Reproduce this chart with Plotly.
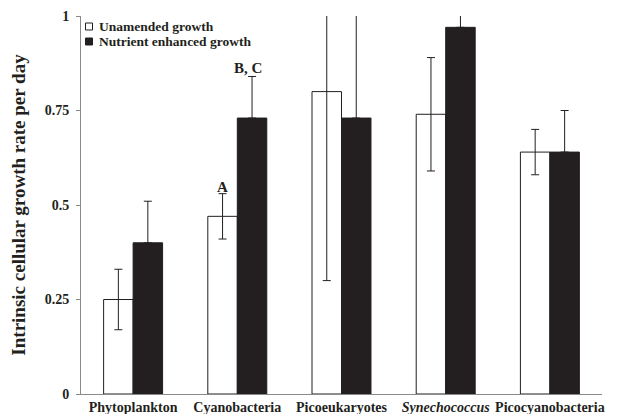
import plotly.graph_objects as go

categories = ["Phytoplankton", "Cyanobacteria", "Picoeukaryotes", "Synechococcus", "Picocyanobacteria"]
tick_labels = ["<b>Phytoplankton</b>", "<b>Cyanobacteria</b>", "<b>Picoeukaryotes</b>",
               "<b><i>Synechococcus</i></b>", "<b>Picocyanobacteria</b>"]
unamended = [0.25, 0.47, 0.80, 0.74, 0.64]
unamended_err = [0.08, 0.06, 0.50, 0.15, 0.06]
enhanced = [0.40, 0.73, 0.73, 0.97, 0.64]
enhanced_err = [0.11, 0.11, 0.50, 0.12, 0.11]
y_ticks = [0, 0.25, 0.5, 0.75, 1]
y_tick_labels = ["<b>0</b>", "<b>0.25</b>", "<b>0.5</b>", "<b>0.75</b>", "<b>1</b>"]
series_names = ["Unamended growth", "Nutrient enhanced growth"]

DARK = "#231F20"
FONT = "Liberation Serif"
AXIS = "#8a8a8a"

# page body has an 8px margin; the figure is sized to fill the rest of the window
OFF = 8
W, H = 617 - OFF, 414 - OFF
L, R, T, B = 81 - OFF, 15, 16 - OFF, 20
pw, ph = W - L - R, H - T - B


def px(x):
    return (x - OFF - L) / pw


def py(y):
    return 1 - (y - OFF - T) / ph


fig = go.Figure()
fig.add_trace(go.Bar(
    x=categories, y=unamended, name=series_names[0], showlegend=False,
    marker=dict(color="white", line=dict(color=DARK, width=1)),
    error_y=dict(type="data", array=unamended_err, symmetric=True,
                 color=DARK, thickness=1, width=4),
))
fig.add_trace(go.Bar(
    x=categories, y=enhanced, name=series_names[1], showlegend=False,
    marker=dict(color=DARK, line=dict(color=DARK, width=1)),
    error_y=dict(type="data", array=enhanced_err, arrayminus=[0] * len(enhanced),
                 symmetric=False, color=DARK, thickness=1, width=4),
))

# legend keys (paper coordinates)
legend_rows = [(26.5, "white"), (41.5, DARK)]
for (yc, fill), name in zip(legend_rows, series_names):
    fig.add_shape(type="rect", xref="paper", yref="paper",
                  x0=px(85.5), x1=px(92.5), y0=py(yc - 3.5), y1=py(yc + 3.5),
                  fillcolor=fill, line=dict(color=DARK, width=1))
    fig.add_annotation(x=px(97), y=py(yc), xref="paper", yref="paper",
                       xanchor="left", yanchor="middle", text="<b>%s</b>" % name,
                       showarrow=False, font=dict(family=FONT, size=13.5, color=DARK))

fig.add_annotation(x=1 - 0.1415, y=0.548, xref="x", yref="y", text="<b>A</b>",
                   showarrow=False, font=dict(family=FONT, size=15, color=DARK))
fig.add_annotation(x=1 + 0.105, y=0.862, xref="x", yref="y", text="<b>B, C</b>",
                   showarrow=False, font=dict(family=FONT, size=15, color=DARK))

fig.update_layout(
    width=W, height=H,
    margin=dict(l=L, r=R, t=T, b=B, autoexpand=False),
    paper_bgcolor="white", plot_bgcolor="white",
    barmode="group", bargap=0.434, bargroupgap=0,
    font=dict(family=FONT, color=DARK, size=14),
    showlegend=False,
)
fig.update_xaxes(
    type="category", range=[-0.5, 4.5], automargin=False,
    tickvals=categories, ticktext=tick_labels, tickangle=0,
    showline=True, linecolor=AXIS, linewidth=1,
    ticks="", showgrid=False, zeroline=False,
    tickfont=dict(family=FONT, size=14, color=DARK),
    ticklabelstandoff=0,
)
fig.update_yaxes(
    range=[0, 1], tickvals=y_ticks, ticktext=y_tick_labels, automargin=False,
    showline=True, linecolor=AXIS, linewidth=1,
    ticks="outside", ticklen=4, tickcolor=AXIS,
    showgrid=False, zeroline=False,
    tickfont=dict(family=FONT, size=14, color=DARK),
    ticklabelstandoff=4,
    title=dict(text="<b>Intrinsic cellular growth rate per day</b>", standoff=14,
               font=dict(family=FONT, size=19, color=DARK)),
)

fig.write_html("out.html")
